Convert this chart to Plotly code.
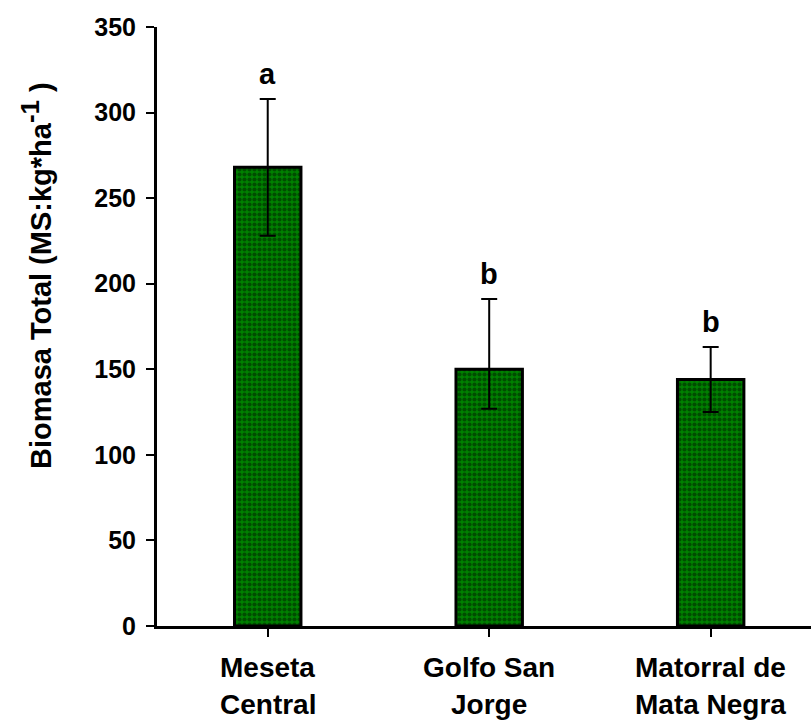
import plotly.graph_objects as go

categories_line1 = ["Meseta", "Golfo San", "Matorral de"]
categories_line2 = ["Central", "Jorge", "Mata Negra"]
biomasa = [268, 150, 144]
err_plus = [40, 41, 19]
err_minus = [40, 23, 19]
letters = ["a", "b", "b"]
y_ticks = [0, 50, 100, 150, 200, 250, 300, 350]

x_pos = list(range(len(biomasa)))
FONT = "Liberation Sans, Arial, sans-serif"

fig = go.Figure()
fig.add_trace(go.Bar(
    x=x_pos, y=biomasa, width=0.3,
    marker=dict(color="#008000",
                line=dict(color="black", width=3),
                pattern=dict(shape=".", fgcolor="#001a00", bgcolor="#008000",
                             size=5, solidity=0.55, fillmode="overlay")),
    error_y=dict(type="data", symmetric=False, array=err_plus, arrayminus=err_minus,
                 color="black", thickness=2, width=8),
    showlegend=False,
))

annotations = []
for i, (v, e, l) in enumerate(zip(biomasa, err_plus, letters)):
    annotations.append(dict(x=i, y=v + e, xref="x", yref="y", text=l, showarrow=False,
                            yanchor="bottom", yshift=7,
                            font=dict(family=FONT, size=29, color="black", weight="bold")))
for i, (a, b) in enumerate(zip(categories_line1, categories_line2)):
    annotations.append(dict(x=i, y=(626 - 667) / 599, xref="x", yref="paper", text=a,
                            showarrow=False, yanchor="middle",
                            font=dict(family=FONT, size=28, color="black", weight="bold")))
    annotations.append(dict(x=i, y=(626 - 704) / 599, xref="x", yref="paper", text=b,
                            showarrow=False, yanchor="middle",
                            font=dict(family=FONT, size=28, color="black", weight="bold")))
annotations.append(dict(x=(36 - 157) / 654, y=(626 - 276) / 599, xref="paper", yref="paper",
                        text="Biomasa Total (MS:kg*ha<sup><span style='font-size:26px'>-1</span></sup> )",
                        textangle=-90,
                        showarrow=False, xanchor="center", yanchor="middle",
                        font=dict(family=FONT, size=29, color="black", weight="bold")))

fig.update_layout(
    width=811, height=720,
    margin=dict(l=157, r=0, t=27, b=94),
    paper_bgcolor="white", plot_bgcolor="white",
    annotations=annotations,
    xaxis=dict(range=[-0.5, 2.453], tickmode="array", tickvals=x_pos, showticklabels=False,
               ticks="outside", ticklen=8, tickwidth=2, tickcolor="black",
               showline=True, linecolor="black", linewidth=3, showgrid=False, zeroline=False),
    yaxis=dict(range=[0, 350], tickmode="array", tickvals=y_ticks,
               ticks="outside", ticklen=8, tickwidth=2, tickcolor="black",
               showline=True, linecolor="black", linewidth=3, showgrid=False, zeroline=False,
               ticklabelstandoff=5,
               tickfont=dict(family=FONT, size=25, color="black", weight="bold")),
)

fig.write_html("out.html")
